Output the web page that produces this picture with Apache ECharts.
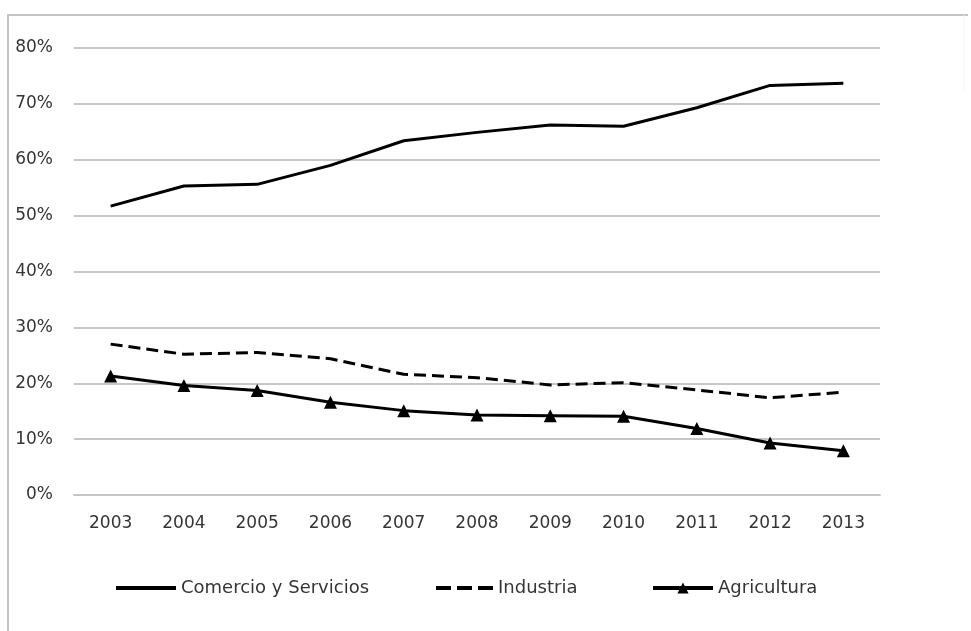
<!DOCTYPE html>
<html>
<head>
<meta charset="utf-8">
<script src="https://cdn.jsdelivr.net/npm/echarts@6/dist/echarts.min.js"></script>
<style>
  html, body { margin: 0; padding: 0; background: #ffffff; }
  #chart { width: 971px; height: 631px; }
</style>
</head>
<body>
<div id="chart"></div>
<script>
// Years on the horizontal axis
const years = ['2003', '2004', '2005', '2006', '2007', '2008', '2009', '2010', '2011', '2012', '2013'];

// Share of employment by sector (%)
const comercioServicios = [51.7, 55.3, 55.6, 59.0, 63.4, 64.9, 66.2, 66.0, 69.3, 73.3, 73.7];
const industria = [27.0, 25.2, 25.5, 24.4, 21.6, 21.0, 19.7, 20.1, 18.8, 17.4, 18.4];
const agricultura = [21.3, 19.6, 18.7, 16.6, 15.1, 14.3, 14.2, 14.1, 11.9, 9.3, 7.9];

// Y axis tick settings
const yMin = 0;
const yMax = 80;
const yStep = 10;

const seriesNames = ['Comercio y Servicios', 'Industria', 'Agricultura'];

const FONT = 'DejaVu Sans, sans-serif';
const TEXT_COLOR = '#353535';
const GRID_COLOR = '#c6c6c6';

// Legend swatches: a plain bar for the solid line, three short bars for the dashed one
const ICON_SOLID = 'path://M0,0H60V4H0Z';
const ICON_DASHED = 'path://M0,0H15V4H0Z M21,0H36V4H21Z M42,0H57V4H42Z';

const chart = echarts.init(document.getElementById('chart'), null, { renderer: 'canvas' });

// One legend block per series so each entry sits at its own position
function legendAt(name, left, icon, width) {
  const item = { name: name };
  if (icon) item.icon = icon;
  return {
    data: [item],
    left: left,
    top: 579,
    padding: 0,
    itemWidth: width,
    itemHeight: 14,
    itemGap: 0,
    symbolKeepAspect: true,
    lineStyle: { width: 4 },
    textStyle: { fontFamily: FONT, fontSize: 18, color: TEXT_COLOR },
    selectedMode: false
  };
}

chart.setOption({
  backgroundColor: '#ffffff',
  animation: false,
  graphic: [
    {
      type: 'polyline',
      shape: { points: [[8, 631], [8, 15], [968, 15]] },
      style: { stroke: '#c4c4c4', lineWidth: 2, fill: null },
      silent: true
    },
    {
      type: 'line',
      shape: { x1: 964, y1: 15, x2: 964, y2: 90 },
      style: { stroke: '#f2f2f2', lineWidth: 1 },
      silent: true
    }
  ],
  grid: {
    left: 74,
    right: 91,
    top: 48,
    bottom: 136,
    containLabel: false
  },
  legend: [
    legendAt(seriesNames[0], 116, ICON_SOLID, 60),
    legendAt(seriesNames[1], 436, ICON_DASHED, 57),
    legendAt(seriesNames[2], 651, null, 60)
  ],
  xAxis: {
    type: 'category',
    data: years,
    boundaryGap: true,
    axisLine: { show: true, lineStyle: { color: GRID_COLOR, width: 2 } },
    axisTick: { show: false },
    axisLabel: {
      margin: 20,
      fontFamily: FONT,
      fontSize: 17,
      color: TEXT_COLOR
    }
  },
  yAxis: {
    type: 'value',
    min: yMin,
    max: yMax,
    interval: yStep,
    axisLine: { show: false },
    axisTick: { show: false },
    splitLine: { show: true, lineStyle: { color: GRID_COLOR, width: 2 } },
    axisLabel: {
      margin: 21,
      fontFamily: FONT,
      fontSize: 17,
      color: TEXT_COLOR,
      formatter: '{value}%'
    }
  },
  series: [
    {
      name: seriesNames[0],
      type: 'line',
      data: comercioServicios,
      symbol: 'none',
      lineStyle: { color: '#000000', width: 3 },
      itemStyle: { color: '#000000' }
    },
    {
      name: seriesNames[1],
      type: 'line',
      data: industria,
      symbol: 'none',
      lineStyle: { color: '#000000', width: 3, type: [12, 6] },
      itemStyle: { color: '#000000' }
    },
    {
      name: seriesNames[2],
      type: 'line',
      data: agricultura,
      symbol: 'triangle',
      symbolSize: 13,
      showAllSymbol: true,
      lineStyle: { color: '#000000', width: 3 },
      itemStyle: { color: '#000000' }
    }
  ]
});
</script>
</body>
</html>
